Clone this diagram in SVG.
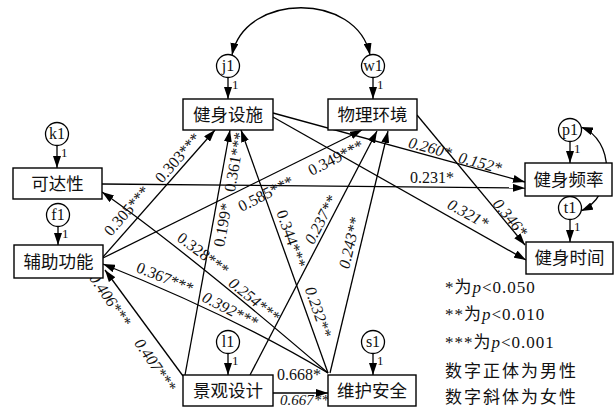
<svg xmlns="http://www.w3.org/2000/svg" width="615" height="408" viewBox="0 0 615 408">
<style>
.box{fill:#fff;stroke:#000;stroke-width:1.4}
.err{fill:#fff;stroke:#000;stroke-width:1.3}
.cn{font-family:"Liberation Serif","Noto Sans CJK SC",serif;font-size:17.5px;fill:#111;text-anchor:middle}
.et{font-family:"Liberation Serif",serif;font-size:16px;fill:#111;text-anchor:middle}
.one{font-family:"Liberation Serif",serif;font-size:13px;fill:#111}
.ln{fill:none;stroke:#000;stroke-width:1.3}
.lb{font-family:"Liberation Serif",serif;font-size:16px;fill:#111;text-anchor:middle}
.it{font-style:italic}
.lg{font-family:"Liberation Serif","Noto Sans CJK SC",serif;font-size:17px;fill:#111}
</style>
<defs>
<marker id="ah" viewBox="0 0 12 8" refX="12" refY="4" markerWidth="12" markerHeight="8" markerUnits="userSpaceOnUse" orient="auto-start-reverse">
<path d="M0,0 L12,4 L0,8 z" fill="#000"/>
</marker>
</defs>
<rect width="615" height="408" fill="#fff"/>

<g id="connectors">
<path class="ln" d="M232,55 C245,-8 357,-8 370,55" marker-start="url(#ah)" marker-end="url(#ah)"/>
<path class="ln" d="M581,127 C615,140 615,196 581,211" marker-start="url(#ah)" marker-end="url(#ah)"/>
<path class="ln" d="M228,78 L228,99" marker-end="url(#ah)"/>
<path class="ln" d="M373,78 L373,99" marker-end="url(#ah)"/>
<path class="ln" d="M57,146 L57,168" marker-end="url(#ah)"/>
<path class="ln" d="M58,227 L58,245" marker-end="url(#ah)"/>
<path class="ln" d="M570,142 L570,163" marker-end="url(#ah)"/>
<path class="ln" d="M570,220 L570,242" marker-end="url(#ah)"/>
<path class="ln" d="M228,354 L228,375" marker-end="url(#ah)"/>
<path class="ln" d="M373,354 L373,375" marker-end="url(#ah)"/>

<path class="ln" d="M103,257 L215,130" marker-end="url(#ah)"/>
<path class="ln" d="M185,375 L230,130" marker-end="url(#ah)"/>
<path class="ln" d="M328,373 L241,130" marker-end="url(#ah)"/>
<path class="ln" d="M103,258 L362,130" marker-end="url(#ah)"/>
<path class="ln" d="M250,375 L377,131" marker-end="url(#ah)"/>
<path class="ln" d="M330,373 L388,131" marker-end="url(#ah)"/>
<path class="ln" d="M328,373 Q181,247 102,192" marker-end="url(#ah)"/>
<path class="ln" d="M328,373 Q233,316 103,264" marker-end="url(#ah)"/>
<path class="ln" d="M183,376 L105,270" marker-end="url(#ah)"/>
<path class="ln" d="M273,393 L328,393" marker-end="url(#ah)"/>
<path class="ln" d="M102,184 L525,188" marker-end="url(#ah)"/>
<path class="ln" d="M273,113 L525,182" marker-end="url(#ah)"/>
<path class="ln" d="M273,117 L526,260" marker-end="url(#ah)"/>
<path class="ln" d="M417,115 L525,245" marker-end="url(#ah)"/>
</g>

<g id="labels">
<text class="lb" transform="translate(178,158) rotate(-49)" dy="5">0.303***</text>
<text class="lb" transform="translate(127,211) rotate(-49)" dy="5">0.305***</text>
<text class="lb" transform="translate(235,162) rotate(-80)" dy="5">0.361***</text>
<text class="lb" transform="translate(223,225) rotate(-80)" dy="5">0.199*</text>
<text class="lb" transform="translate(291,239) rotate(70.7)" dy="5">0.344***</text>
<text class="lb it" transform="translate(318,312) rotate(70.7)" dy="5">0.232**</text>
<text class="lb" transform="translate(266,194) rotate(-27)" dy="5">0.585***</text>
<text class="lb" transform="translate(336,158) rotate(-27)" dy="5">0.349***</text>
<text class="lb it" transform="translate(321,220) rotate(-62.4)" dy="5">0.237**</text>
<text class="lb it" transform="translate(350,243) rotate(-76.7)" dy="5">0.243**</text>
<text class="lb" transform="translate(203,254) rotate(37)" dy="5">0.328***</text>
<text class="lb it" transform="translate(254,300) rotate(39)" dy="5">0.254***</text>
<text class="lb" transform="translate(165,278) rotate(22)" dy="5">0.367***</text>
<text class="lb it" transform="translate(230,310) rotate(27)" dy="5">0.392***</text>
<text class="lb it" transform="translate(110,300) rotate(55)" dy="5">0.406***</text>
<text class="lb it" transform="translate(155,365) rotate(55)" dy="5">0.407***</text>
<text class="lb" x="277" y="380" style="text-anchor:start">0.668*</text>
<text class="lb it" x="280" y="405" style="text-anchor:start;font-size:15px">0.667***</text>
<text class="lb" x="410" y="183" style="text-anchor:start">0.231*</text>
<text class="lb it" transform="translate(430,148) rotate(15)" dy="5">0.260*</text>
<text class="lb it" transform="translate(480,163) rotate(15)" dy="5">0.152*</text>
<text class="lb it" transform="translate(468,214) rotate(29)" dy="5">0.321*</text>
<text class="lb it" transform="translate(510,218) rotate(50)" dy="5">0.346*</text>
</g>

<g id="e-j1"><circle class="err" cx="228" cy="66" r="11.5"/><text class="et" x="228" y="71">j1</text><text class="one" x="232" y="89">1</text></g>
<g id="e-w1"><circle class="err" cx="373" cy="66" r="11.5"/><text class="et" x="373" y="71">w1</text><text class="one" x="377" y="89">1</text></g>
<g id="e-k1"><circle class="err" cx="57" cy="134" r="11.5"/><text class="et" x="57" y="139">k1</text><text class="one" x="61" y="157">1</text></g>
<g id="e-f1"><circle class="err" cx="58" cy="215" r="11.5"/><text class="et" x="58" y="220">f1</text><text class="one" x="62" y="238">1</text></g>
<g id="e-p1"><circle class="err" cx="570" cy="130" r="11.5"/><text class="et" x="570" y="135">p1</text><text class="one" x="574" y="153">1</text></g>
<g id="e-t1"><circle class="err" cx="570" cy="208" r="11.5"/><text class="et" x="570" y="213">t1</text><text class="one" x="574" y="231">1</text></g>
<g id="e-l1"><circle class="err" cx="228" cy="342" r="11.5"/><text class="et" x="228" y="347">l1</text><text class="one" x="232" y="365">1</text></g>
<g id="e-s1"><circle class="err" cx="373" cy="342" r="11.5"/><text class="et" x="373" y="347">s1</text><text class="one" x="377" y="365">1</text></g>

<g id="n-jssj"><rect class="box" x="183" y="99" width="90" height="31"/><text class="cn" x="228" y="121">健身设施</text></g>
<g id="n-wlhj"><rect class="box" x="328" y="99" width="89" height="31"/><text class="cn" x="372.5" y="121">物理环境</text></g>
<g id="n-kdx"><rect class="box" x="13" y="168" width="89" height="31"/><text class="cn" x="57.5" y="190">可达性</text></g>
<g id="n-fzgn"><rect class="box" x="14" y="245" width="89" height="33"/><text class="cn" x="58.5" y="268">辅助功能</text></g>
<g id="n-jspl"><rect class="box" x="525" y="163" width="87" height="33"/><text class="cn" x="568.5" y="186">健身频率</text></g>
<g id="n-jssj2"><rect class="box" x="526" y="242" width="87" height="32"/><text class="cn" x="569.5" y="264">健身时间</text></g>
<g id="n-jgsj"><rect class="box" x="183" y="375" width="90" height="31"/><text class="cn" x="228" y="397">景观设计</text></g>
<g id="n-whaq"><rect class="box" x="328" y="375" width="88" height="31"/><text class="cn" x="372" y="397">维护安全</text></g>

<g id="legend">
<text class="lg" x="445" y="293" letter-spacing="1">*为<tspan font-style="italic">p</tspan>&lt;0.050</text>
<text class="lg" x="445" y="320" letter-spacing="1">**为<tspan font-style="italic">p</tspan>&lt;0.010</text>
<text class="lg" x="445" y="348" letter-spacing="1">***为<tspan font-style="italic">p</tspan>&lt;0.001</text>
<text class="lg" x="445" y="377" letter-spacing="2">数字正体为男性</text>
<text class="lg" x="445" y="403" letter-spacing="2">数字斜体为女性</text>
</g>
</svg>
